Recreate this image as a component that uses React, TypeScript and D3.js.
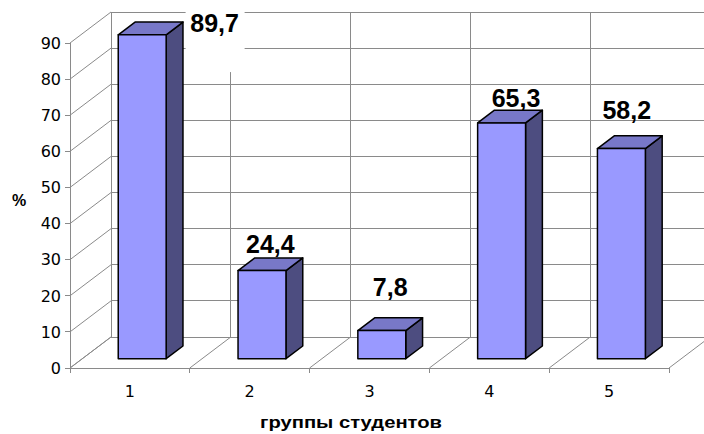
import * as d3 from "d3";

const categories = ["1", "2", "3", "4", "5"];
const values = [89.7, 24.4, 7.8, 65.3, 58.2];
const valueLabels = ["89,7", "24,4", "7,8", "65,3", "58,2"];
const yTicks = [0, 10, 20, 30, 40, 50, 60, 70, 80, 90];
// Excel put its data labels in slightly odd spots; nudges relative to bar top
const labelNudge: [number, number][] = [[64, -12], [0, -27], [0, -44], [6, -25], [-3, -39]];

const W = 704, H = 434;
const DX = 41, DY = 31; // depth vector of the 3D box
const Z0 = 0.3, Z1 = 0.71; // bar front/back depth
const GRID = "#8a8a8a";
const FONT = "'Liberation Sans', Arial, sans-serif";
const TICKFONT = "'DejaVu Sans', sans-serif";

export default function App() {
  const x = d3.scaleBand<string>().domain(categories).range([70, 669]);
  const y = d3.scaleLinear().domain([0, 90]).range([368, 43]);
  const P = (px: number, v: number, z: number) => [px + DX * z, y(v) - DY * z];
  const bw = x.bandwidth(), half = bw * 0.2;
  const [x0, x1] = x.range();
  const bounds = [...categories.map(c => x(c)!), x1];
  const poly = (pts: number[][]) => pts.map(p => p.join(",")).join(" ");
  const topV = yTicks[yTicks.length - 1];

  return (
    <svg width={W} height={H} viewBox={`0 0 ${W} ${H}`}
      style={{ position: "absolute", left: 0, top: 0, background: "#fff", display: "block" }}>
      <rect width={W} height={H} fill="#fff" />
      <g stroke={GRID} strokeWidth={1} fill="none" shapeRendering="crispEdges">
        {/* left wall + back wall horizontal gridlines */}
        {yTicks.map(t => {
          const a = P(x0, t, 0), b = P(x0, t, 1), c = P(x1, t, 1);
          return <g key={t}>
            <line x1={a[0]} y1={a[1]} x2={b[0]} y2={b[1]} shapeRendering="auto" />
            <line x1={b[0]} y1={b[1]} x2={c[0]} y2={c[1]} />
            <line x1={a[0] - 5} y1={a[1]} x2={a[0]} y2={a[1]} />
          </g>;
        })}
        {/* back wall verticals */}
        {bounds.map((b, i) => {
          const p = P(b, 0, 1), q = P(b, topV, 1);
          return <line key={i} x1={p[0]} y1={p[1]} x2={q[0]} y2={q[1]} />;
        })}
        {/* floor */}
        {bounds.map((b, i) => {
          const p = P(b, 0, 0), q = P(b, 0, 1);
          return <g key={i}>
            <line x1={p[0]} y1={p[1]} x2={q[0]} y2={q[1]} shapeRendering="auto" />
            <line x1={p[0]} y1={p[1]} x2={p[0]} y2={p[1] + 5} />
          </g>;
        })}
        <line x1={x0} y1={y(0)} x2={x1} y2={y(0)} />
        <line x1={x0} y1={y(0)} x2={x0} y2={y(topV)} />
      </g>

      {/* bars */}
      {values.map((v, i) => {
        const cx = x(categories[i])! + bw / 2, l = cx - half, r = cx + half;
        const f0 = P(l, v, Z0), f1 = P(r, 0, Z0);
        return <g key={i} stroke="#000" strokeWidth={1.5} strokeLinejoin="round">
          <polygon points={poly([P(r, v, Z0), P(r, v, Z1), P(r, 0, Z1), P(r, 0, Z0)])} fill="#4d4d80" />
          <polygon points={poly([P(l, v, Z0), P(l, v, Z1), P(r, v, Z1), P(r, v, Z0)])} fill="#7878c8" />
          <rect x={f0[0]} y={f0[1]} width={f1[0] - f0[0]} height={f1[1] - f0[1]} fill="#9999ff" />
        </g>;
      })}

      {/* value labels */}
      {values.map((v, i) => {
        const cx = x(categories[i])! + bw / 2 + DX * (Z0 + Z1) / 2 + labelNudge[i][0];
        const by = y(v) + labelNudge[i][1];
        const boxed = by < y(topV);
        return <g key={i}>
          {boxed && <rect x={cx - 29} y={0} width={59} height={by + 40} fill="#fff" />}
          <text x={cx} y={by} textAnchor="middle" fontFamily={FONT} fontWeight="bold" fontSize={25} fill="#000">{valueLabels[i]}</text>
        </g>;
      })}

      {/* y tick labels */}
      {yTicks.map(t => (
        <text key={t} x={61} y={y(t)} dy="0.36em" textAnchor="end" fontFamily={TICKFONT} fontSize={16} fill="#000">{t}</text>
      ))}
      {/* category labels */}
      {categories.map(c => (
        <text key={c} x={x(c)! + bw / 2} y={397} textAnchor="middle" fontFamily={TICKFONT} fontSize={16} fill="#000">{c}</text>
      ))}
      <text x={19} y={206} textAnchor="middle" fontFamily={FONT} fontWeight="bold" fontSize={16} fill="#000">%</text>
      <text x={260} y={428} textLength={182} lengthAdjust="spacingAndGlyphs" fontFamily={FONT} fontWeight="bold" fontSize={17} fill="#000">группы студентов</text>
    </svg>
  );
}
